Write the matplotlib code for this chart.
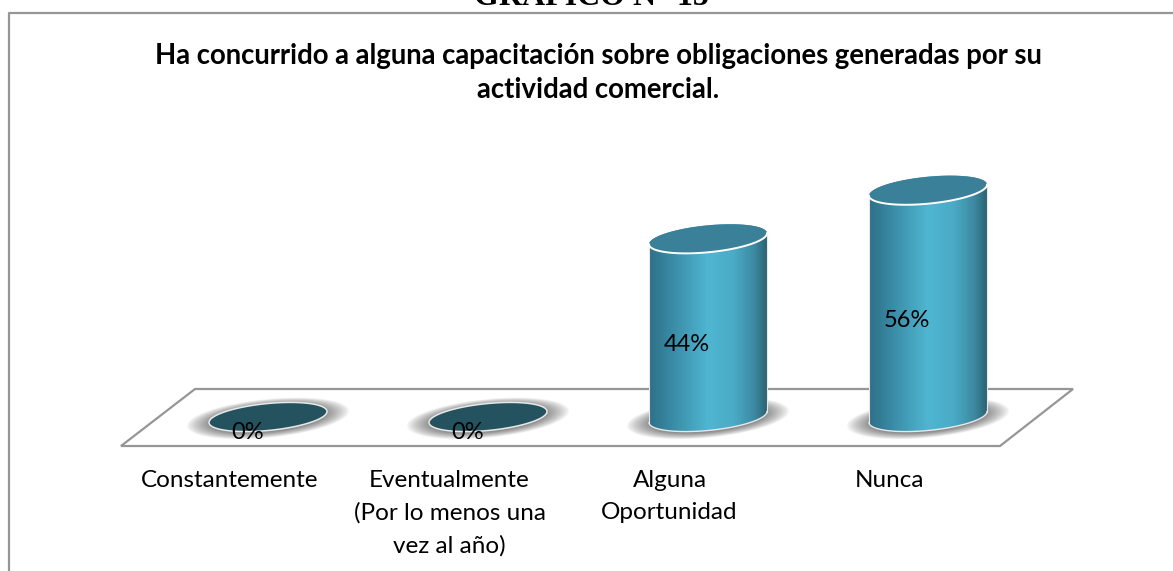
import numpy as np
import matplotlib
matplotlib.use('Agg')
import matplotlib.pyplot as plt
from matplotlib.colors import LinearSegmentedColormap
from matplotlib.patches import PathPatch, Polygon
from matplotlib.path import Path

categories = ['Constantemente', 'Eventualmente\n(Por lo menos una\nvez al año)', 'Alguna\nOportunidad', 'Nunca']
values = [0, 0, 44, 56]
value_labels = ['0%', '0%', '44%', '56%']
titulo = 'Ha concurrido a alguna capacitación sobre obligaciones generadas por su\nactividad comercial.'
encabezado = 'GRAFICO N° 15'

W, H = 1173, 571
X0, DX = 268, 220  # pixel of first category, spacing
Y0, DY = 417, 4.05  # pixel of value 0, pixels per percent

def px(x, y):
    """Pixel position of the reference -> data coords"""
    return (x - X0) / DX, (Y0 - y) / DY

fig = plt.figure(figsize=(W / 100, H / 100), dpi=100)
ax = fig.add_axes([0, 0, 1, 1])
ax.axis('off')

grey = '#969696'
# frame around the chart, open on the right
ax.plot(*zip(px(8.5, H), px(8.5, 13.5), px(W, 13.5)), color=grey, lw=1.6, zorder=1)
# floor
ax.add_patch(Polygon([px(121, 446), px(195, 389), px(1073, 389), px(1000, 446)], closed=True,
                     fc='white', ec=grey, lw=1.6, zorder=2))

cmap = LinearSegmentedColormap.from_list('cyl', [(0, '#2f7088'), (0.12, '#35809a'), (0.5, '#4fb6d2'),
                                                 (0.72, '#4aabc6'), (0.9, '#3c88a0'), (1, '#2c6272')])
A, B, K = 59 / DX, 13.5 / DY, 5.5 / DY  # ellipse half width, half height, tilt
t = np.linspace(0, 2 * np.pi, 121)

def ellipse(i, v):
    return np.column_stack([i + A * np.cos(t), v + B * np.sin(t) + K * np.cos(t)])

def shadow(i):
    # soft grey halo under the cylinder
    xs = np.linspace(i - 1.45 * A, i + 1.45 * A, 200)
    ys = np.linspace(-2.0 * B, 2.0 * B, 100)
    xx, yy = np.meshgrid(xs, ys)
    r = np.sqrt(((xx - i) / (1.38 * A)) ** 2 + ((yy - (xx - i) * K / A + 0.1 * B) / (1.45 * B)) ** 2)
    alpha = np.clip((1 - r) / 0.3, 0, 1) ** 0.8
    img = np.zeros(xx.shape + (4,))
    img[..., :3] = 0.55
    img[..., 3] = alpha
    ax.imshow(img, extent=(xs[0], xs[-1], ys[0], ys[-1]), origin='lower', aspect='auto', zorder=3,
              interpolation='bilinear')

for i, v in enumerate(values):
    shadow(i)
    if v == 0:
        ax.add_patch(Polygon(ellipse(i, v), closed=True, fc='#24535f', ec='#e8e8e8', lw=1.1, zorder=5))
        continue
    # body: lower half of the base ellipse + upper rim
    half = t[60:121]
    base = np.column_stack([i + A * np.cos(half), 0 + B * np.sin(half) + K * np.cos(half)])
    top = np.column_stack([i + A * np.cos(t[:61]), v + B * np.sin(t[:61]) + K * np.cos(t[:61])])
    outline = np.vstack([base, top, base[:1]])
    body = PathPatch(Path(outline), fc='none', ec='none', zorder=5)
    ax.add_patch(body)
    grad = np.linspace(0, 1, 256).reshape(1, -1)
    im = ax.imshow(grad, cmap=cmap, extent=(i - A, i + A, -2 * B, v + 2 * B), aspect='auto', zorder=5)
    im.set_clip_path(body)
    ax.plot(base[:, 0], base[:, 1], color='#e8e8e8', lw=1.0, zorder=6)
    ax.plot([i - A, i - A], [-K, v - K], color='#e8e8e8', lw=0.8, zorder=6)
    ax.plot([i + A, i + A], [K, v + K], color='#e8e8e8', lw=0.8, zorder=6)
    ax.add_patch(Polygon(ellipse(i, v), closed=True, fc='#3a8098', ec='none', zorder=6))
    ax.plot(i + A * np.cos(half), v + B * np.sin(half) + K * np.cos(half),
            color='white', lw=1.4, zorder=7)

# imshow changes the limits, so set them last
ax.set_xlim(px(0, 0)[0], px(W, 0)[0])
ax.set_ylim(px(0, H)[1], px(0, 0)[1])

for i, (v, lab) in enumerate(zip(values, value_labels)):
    ax.text(i - 0.095, v / 2 - 4.2 if v else -3.9, lab, ha='center', va='center', fontsize=17,
            family='Lato', color='black', zorder=8)

for i, cat in enumerate(categories):
    x, y = px(X0 + DX * i - 38.5, 470)
    ax.text(x, y, cat, ha='center', va='top', fontsize=17.5, family='Lato', color='black',
            linespacing=1.63, zorder=8)

x, y = px(598, 73)
ax.text(x, y, titulo, ha='center', va='center', fontsize=19.8, family='Lato', weight='bold',
        linespacing=1.42, zorder=8)
x, y = px(591, 5)
ax.text(x, y, encabezado, ha='center', va='baseline', fontsize=23, family='Liberation Serif',
        weight='bold', zorder=8)

fig.savefig('out.png', dpi=100)
